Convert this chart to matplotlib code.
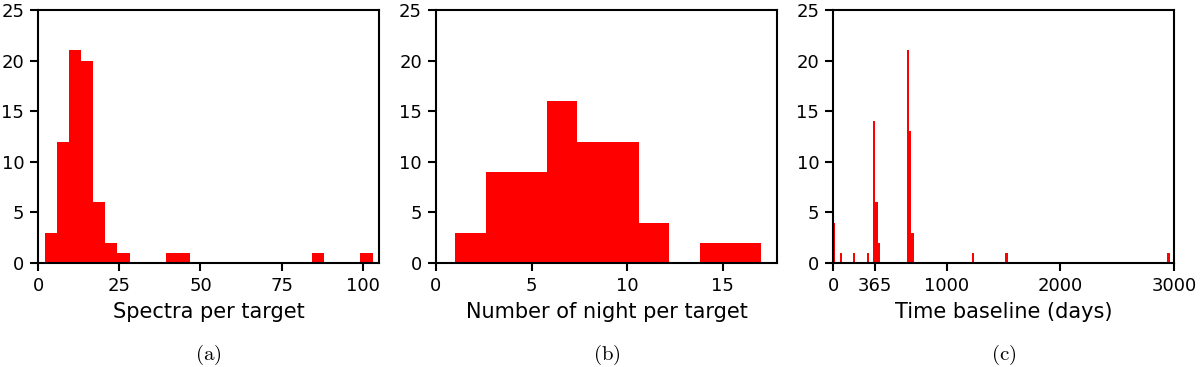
import matplotlib
matplotlib.use("Agg")
import matplotlib.pyplot as plt

plt.rcParams['mathtext.fontset'] = 'cm'

# Histogram data (bin left edges and counts)
spectra_edges = [2.0, 5.74, 9.48, 13.22, 16.96, 20.70, 24.44, 39.41, 43.15, 84.28, 99.26]
spectra_counts = [3, 12, 21, 20, 6, 2, 1, 1, 1, 1, 1]
spectra_width = 3.74

nights_edges = [1.0, 2.6, 4.2, 5.8, 7.4, 9.0, 10.6, 12.2, 13.8, 15.4]
nights_counts = [3, 9, 9, 16, 12, 12, 4, 0, 2, 2]
nights_width = 1.6

baseline_edges = [0, 58, 176, 296, 352, 372.5, 393, 647, 667.5, 688, 1222, 1516, 2942]
baseline_counts = [4, 1, 1, 1, 14, 6, 2, 21, 13, 3, 1, 1, 1]
baseline_width = 20.5

fig = plt.figure(figsize=(12, 3.67), dpi=100)

panels = [
    (0.0317, spectra_edges, spectra_counts, spectra_width, (0, 105), [0, 25, 50, 75, 100],
     "Spectra per target", "(a)"),
    (0.3633, nights_edges, nights_counts, nights_width, (0, 17.84), [0, 5, 10, 15],
     "Number of night per target", "(b)"),
    (0.6942, baseline_edges, baseline_counts, baseline_width, (0, 3000), [0, 365, 1000, 2000, 3000],
     "Time baseline (days)", "(c)"),
]

for left, edges, counts, width, xlim, xticks, xlabel, caption in panels:
    ax = fig.add_axes([left, 0.2834, 0.2842, 0.6894])
    ax.bar(edges, counts, width=width, align='edge', color='red', linewidth=0)
    ax.set_xlim(*xlim)
    ax.set_ylim(0, 25)
    ax.set_xticks(xticks)
    ax.set_yticks([0, 5, 10, 15, 20, 25])
    ax.tick_params(direction='out', length=6, width=1.5, labelsize=13, pad=4,
                   top=False, right=False)
    for sp in ax.spines.values():
        sp.set_linewidth(1.5)
    ax.set_xlabel(xlabel, fontsize=15, labelpad=5)
    fig.text(left + 0.2842 / 2, 1 - 355 / 367, r'$\mathrm{' + caption + '}$',
             ha='center', va='center', fontsize=15)

fig.savefig("out.png", dpi=100)
